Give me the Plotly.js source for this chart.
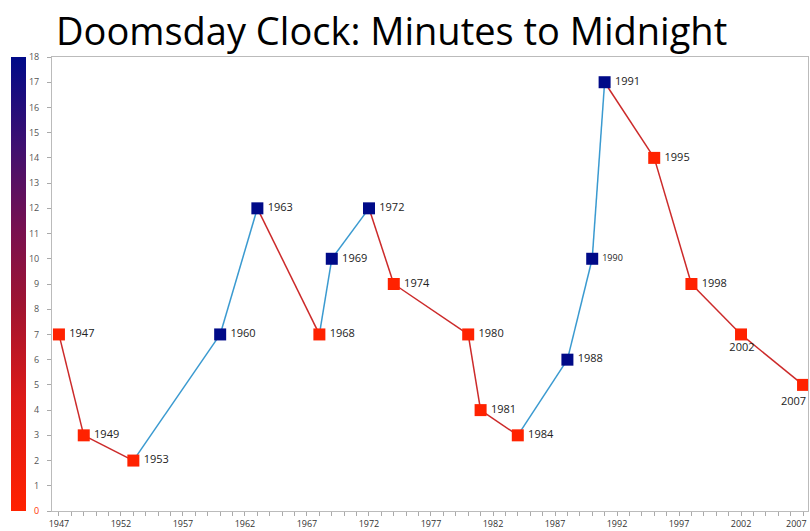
<!DOCTYPE html>
<html>
<head>
<meta charset="utf-8">
<script src="https://cdn.plot.ly/plotly-3.0.1.min.js"></script>
<style>html,body{margin:0;padding:0;background:#fff;}#chart{width:810px;height:531px;}</style>
</head>
<body>
<div id="chart"></div>
<script>
// Data
const years   = [1947, 1949, 1953, 1960, 1963, 1968, 1969, 1972, 1974, 1980, 1981, 1984, 1988, 1990, 1991, 1995, 1998, 2002, 2007];
const minutes = [7,    3,    2,    7,    12,   7,    10,   12,   9,    7,    4,    3,    6,    10,   17,   14,   9,    7,    5];
const labels  = years.map(String);
const yTickVals = [0,1,2,3,4,5,6,7,8,9,10,11,12,13,14,15,16,17,18];
const xTickVals = [1947, 1952, 1957, 1962, 1967, 1972, 1977, 1982, 1987, 1992, 1997, 2002, 2007];
const xTickText = ['1947', '1952', '1957', '1962', '1967', '1972', '1977', '1982', '1987', '1992', '1997', '2002', '2007'];

const RED = '#ff2200', NAVY = '#000a88';
const RED_LINE = '#cc2a2a', BLUE_LINE = '#3a9ad0';
const FONT = 'Open Sans, DejaVu Sans, sans-serif';
const last = years.length - 1;
const lastTick = xTickVals.length - 1;

// Build segment traces grouped by direction, separated with nulls
const redX = [], redY = [], blueX = [], blueY = [];
for (let i = 0; i < years.length - 1; i++) {
  const up = minutes[i + 1] > minutes[i];
  const X = up ? blueX : redX, Y = up ? blueY : redY;
  X.push(years[i], years[i + 1], null);
  Y.push(minutes[i], minutes[i + 1], null);
}
const markerColors = minutes.map((m, i) => (i > 0 && m > minutes[i - 1]) ? NAVY : RED);
const textPos = years.map(y => (y === 2002 || y === 2007) ? 'bottom center' : 'middle right');
const textSizes = years.map(y => y === 1990 ? 9 : 11);
// last label is drawn as an annotation so it can sit inside the page edge
const textLabels = labels.map((l, i) => i === last ? '' : '\u2009' + l);
const xTickLabels = xTickText.map((t, i) => i === lastTick ? '' : t);

const traces = [
  {x: redX, y: redY, mode: 'lines', line: {color: RED_LINE, width: 1.5}, hoverinfo: 'skip', showlegend: false},
  {x: blueX, y: blueY, mode: 'lines', line: {color: BLUE_LINE, width: 1.5}, hoverinfo: 'skip', showlegend: false},
  {x: years, y: minutes, mode: 'markers+text', text: textLabels, textposition: textPos, cliponaxis: false,
   textfont: {family: FONT, size: textSizes, color: '#222'},
   marker: {symbol: 'square', size: 12, color: markerColors, line: {width: 0}}, showlegend: false},
  // colour scale bar on the left
  {x: [null, null], y: [0, 18], mode: 'markers', hoverinfo: 'skip', showlegend: false,
   marker: {color: [0, 18], cmin: 0, cmax: 18,
     colorscale: [[0, '#ff2200'], [0.25, '#dd1a18'], [0.45, '#a01430'], [0.62, '#781050'], [0.8, '#401070'], [1, '#000a88']],
     showscale: true,
     colorbar: {xref: 'container', x: 11/810, xanchor: 'left', thickness: 15, len: 1, lenmode: 'fraction',
       yref: 'paper', y: 0.5, yanchor: 'middle', outlinewidth: 0, showticklabels: false, ticks: '', xpad: 0, ypad: 0}}}
];

const yTickText = yTickVals.map(v => v === 0 ? '<span style="color:#ff3300">0</span>' : String(v));

const annotations = [
  {x: years[last], y: minutes[last], xref: 'x', yref: 'y', text: labels[last], showarrow: false,
   xanchor: 'right', yanchor: 'top', xshift: 5, yshift: -6,
   font: {family: FONT, size: 11, color: '#222'}},
  {x: xTickVals[lastTick], y: 0, xref: 'x', yref: 'paper', text: xTickText[lastTick], showarrow: false,
   xanchor: 'right', yanchor: 'top', xshift: 6, yshift: -4,
   font: {family: FONT, size: 9, color: '#333'}}
];

const layout = {
  width: 810, height: 531,
  margin: {l: 52, r: 2, t: 57, b: 20},
  paper_bgcolor: '#fff', plot_bgcolor: '#fff',
  title: {text: 'Doomsday Clock: Minutes to Midnight', x: 56/810, xanchor: 'left', xref: 'container',
    y: 1 - 18/531, yanchor: 'top', yref: 'container',
    font: {family: FONT, size: 38, color: '#000'}},
  xaxis: {range: [1946.44, 2007.4], tickvals: xTickVals, ticktext: xTickLabels, ticks: 'outside', ticklen: 4, tickcolor: '#aaa',
    showgrid: false, zeroline: false, showline: true, linecolor: '#bbb', linewidth: 1, mirror: true,
    tickfont: {family: FONT, size: 9, color: '#333'},
    minor: {dtick: 1, tick0: 1947, ticks: 'outside', ticklen: 4, tickcolor: '#aaa'}},
  yaxis: {range: [0, 18], tickvals: yTickVals, ticktext: yTickText, ticks: 'outside', ticklen: 4, tickcolor: '#aaa',
    ticklabelstandoff: 6,
    showgrid: false, zeroline: false, showline: true, linecolor: '#bbb', linewidth: 1, mirror: true,
    tickfont: {family: FONT, size: 9, color: '#555'}},
  annotations: annotations,
  showlegend: false
};

Plotly.newPlot('chart', traces, layout, {displayModeBar: false, staticPlot: true});
</script>
</body>
</html>
